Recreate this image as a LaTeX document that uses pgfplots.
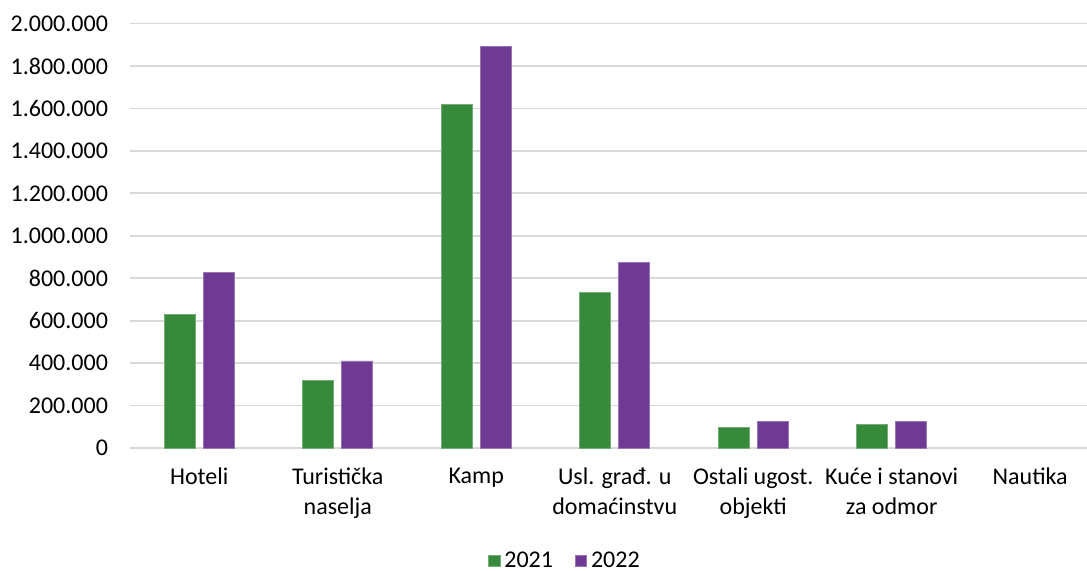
\documentclass[border=0pt]{standalone}
\usepackage{fontspec}
\setmainfont{Carlito}
\usepackage{pgfplots}
\pgfplotsset{compat=1.18}
\definecolor{cgreen}{RGB}{55,137,60}
\definecolor{cpurple}{RGB}{111,58,148}
\definecolor{cgrid}{RGB}{217,217,217}
\begin{document}
\begin{tikzpicture}
\useasboundingbox (0,0) rectangle (543.5pt,285.5pt);
\begin{axis}[
  at={(65pt,61.5pt)}, anchor=south west,
  scale only axis, width=478.5pt, height=212.2pt,
  ybar=4pt, bar width=15.5pt,
  xmin=-0.5, xmax=6.41, ymin=0, ymax=2000000,
  axis line style={draw=none},
  ymajorgrids, grid style={cgrid, line width=0.9pt},
  ytick={0,200000,...,2000000},
  xtick={0,1,2,3,4,5,6},
  xticklabels={Hoteli,{Turistička\\naselja},Kamp,{Usl. građ. u\\domaćinstvu},{Ostali ugost.\\objekti},{Kuće i stanovi\\za odmor},Nautika},
  major tick length=0pt, tick style={draw=none},
  scaled ticks=false,
  /pgf/number format/.cd, fixed, 1000 sep={.}, assume math mode=true,
  /pgfplots/.cd,
  tick label style={font=\fontsize{12}{15}\selectfont, text=black},
  xticklabel style={align=center, yshift=-6.5pt},
  yticklabel style={xshift=-7.5pt},
  legend style={at={(0.4556,-0.266)}, anchor=center, draw=none, fill=none,
    font=\fontsize{12}{15}\selectfont, legend columns=2,
    /tikz/every even column/.append style={column sep=9pt}},
  legend image code/.code={\fill[#1] (0pt,-2.8pt) rectangle (5.6pt,2.8pt);},
  clip=false,
]
\addplot[fill=cgreen, draw=cgreen!70!white, line width=0.4pt] coordinates {
 (0,630000) (1,320000) (2,1617000) (3,734000) (4,97000) (5,110000)};
\addplot[fill=cpurple, draw=cpurple!70!white, line width=0.4pt] coordinates {
 (0,826000) (1,410000) (2,1893000) (3,876000) (4,123000) (5,124000)};
\legend{2021,2022}
\end{axis}
\end{tikzpicture}
\end{document}
